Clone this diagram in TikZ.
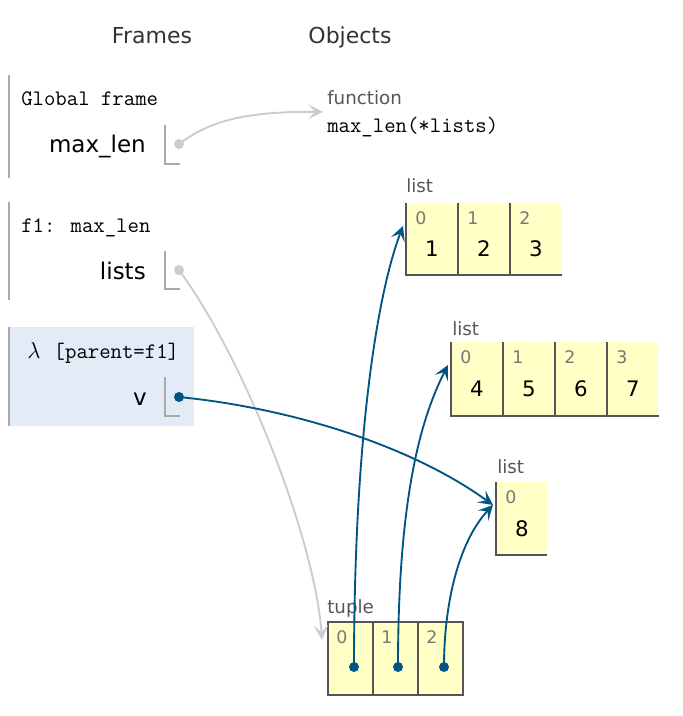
\documentclass[tikz,border=0pt]{standalone}
\usepackage{fontspec}
\setmainfont{DejaVu Sans}
\usepackage{xcolor}
\usepackage{tikz}
\usetikzlibrary{arrows.meta}

\definecolor{ptrblue}{HTML}{005583}
\definecolor{ptrgray}{HTML}{CCCCCC}
\definecolor{cellyel}{HTML}{FFFFC6}
\definecolor{cellbrd}{HTML}{555555}
\definecolor{barcol}{HTML}{AAAAAA}
\definecolor{framehl}{HTML}{E2EBF6}
\definecolor{idxgray}{HTML}{777777}
\definecolor{lblcol}{HTML}{555555}

\begin{document}
\begin{tikzpicture}[x=0.75pt,y=-0.75pt,
    txt/.style={inner sep=0pt,anchor=base west},
    heading/.style={inner sep=0pt,anchor=base,font=\fontsize{16.5}{18}\selectfont,text=black!80},
    fname/.style={txt,font=\fontsize{16.6}{18}\selectfont\ttfamily},
    vname/.style={inner sep=0pt,anchor=base east,font=\fontsize{17.25}{20}\selectfont},
    olabel/.style={txt,font=\fontsize{13.7}{16}\selectfont,text=lblcol},
    idx/.style={txt,font=\fontsize{13}{14}\selectfont,text=idxgray},
    val/.style={inner sep=0pt,anchor=base,font=\fontsize{16}{18}\selectfont},
    framerule/.style={barcol,line width=1.5pt},
    ptrbox/.style={barcol,line width=1.2pt},
    refdot/.style={circle,fill=#1,inner sep=0pt,minimum size=7.5pt},
    ptrline/.style={#1,line width=1.4pt,-{Stealth[length=11pt,width=11pt,inset=5pt]}},
    cellline/.style={cellbrd,line width=1.5pt}]
    \useasboundingbox (0,0) rectangle (682,716);

    \node[heading] (frm) at (152,44) {Frames};
    \node[heading] (obj) at (350,44) {Objects};

    %%%% frames
    \draw[framerule] (9,75) -- (9,178);
    \node[fname] (gf) at (21,106) {Global frame};
    \node[vname] (gmax) at (146,153) {max\_len};
    \draw[ptrbox] (165,125) -- (165,164) -- (180,164);
    \node[refdot=ptrgray] (gdot) at (179,144) {};

    \draw[framerule] (9,202) -- (9,300);
    \node[fname] (ff) at (21,233) {f1: max\_len};
    \node[vname] (flists) at (146,279) {lists};
    \draw[ptrbox] (165,251) -- (165,289) -- (180,289);
    \node[refdot=ptrgray] (fdot) at (179,270) {};

    \fill[framehl] (9,327) rectangle (194,426);
    \draw[framerule] (9,327) -- (9,426);
    \node[fname] (lf) at (27,358) {$\lambda$\hspace{0.6em}[parent=f1]};
    \node[vname] (lv) at (147,405) {v};
    \draw[ptrbox] (165,377) -- (165,416) -- (180,416);
    \node[refdot=ptrblue] (ldot) at (179,397) {};

    %%%% objects
    \node[olabel] (fnl) at (327,105) {function};
    \node[fname] (fnsig) at (327,133) {max\_len(*lists)};
    \coordinate (fnin) at (323,112);

    \node[olabel] (la) at (406,193) {list};
    \fill[cellyel] (406,203) rectangle (561,275);
    \foreach \i/\v [count=\k from 0] in {406/1,458/2,510/3} {
        \draw[cellline] (\i,203) -- (\i,275) -- ++(52,0);
        \node[idx] (lai\k) at (\i+9,225) {\k};
        \node[val] (lav\k) at (\i+26,257) {\v};
    }
    \coordinate (lain) at (403,226);

    \node[olabel] (lb) at (452,335) {list};
    \fill[cellyel] (451,342) rectangle (658,416);
    \foreach \i/\v [count=\k from 0] in {451/4,503/5,555/6,607/7} {
        \draw[cellline] (\i,342) -- (\i,416) -- ++(52,0);
        \node[idx] (lbi\k) at (\i+9,363) {\k};
        \node[val] (lbv\k) at (\i+26,396) {\v};
    }
    \coordinate (lbin) at (448,365);

    \node[olabel] (lc) at (497,473) {list};
    \fill[cellyel] (496,482) rectangle (547,555);
    \draw[cellline] (496,482) -- (496,555) -- (547,555);
    \node[idx] (lci0) at (505,503) {0};
    \node[val] (lcv0) at (522,536) {8};
    \coordinate (lcin) at (493,505);

    \node[olabel] (tl) at (327,613) {tuple};
    \foreach \i [count=\k from 0] in {328,373,418} {
        \draw[cellline,fill=cellyel] (\i,622) rectangle ++(45,73);
        \node[idx] (ti\k) at (\i+8,643) {\k};
    }
    \coordinate (tin) at (322,640);
    \node[refdot=ptrblue] (t0) at (354,667) {};
    \node[refdot=ptrblue] (t1) at (398,667) {};
    \node[refdot=ptrblue] (t2) at (444,667) {};

    %%%% pointers
    \draw[ptrline=ptrgray] (gdot.center) .. controls (205,125) and (235,111) .. (fnin);
    \draw[ptrline=ptrgray] (fdot.center) .. controls (245,360) and (315,540) .. (tin);
    \draw[ptrline=ptrblue] (ldot.center) .. controls (290,408) and (410,445) .. (lcin);
    \draw[ptrline=ptrblue] (t0.center) .. controls (354,450) and (375,300) .. (lain);
    \draw[ptrline=ptrblue] (t1.center) .. controls (398,500) and (420,420) .. (lbin);
    \draw[ptrline=ptrblue] (t2.center) .. controls (444,600) and (460,540) .. (lcin);
\end{tikzpicture}
\end{document}
